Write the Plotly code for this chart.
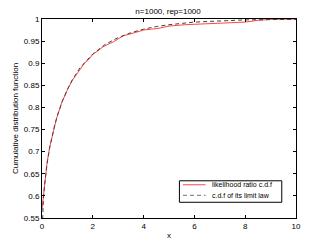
import plotly.graph_objects as go

# limit law c.d.f
x_limit = [0, 0.02, 0.05, 0.1, 0.15, 0.2, 0.3, 0.4, 0.5, 0.6, 0.8, 1.0, 1.2, 1.5, 1.8, 2.0,
           2.5, 3.0, 3.5, 4.0, 4.5, 5.0, 6.0, 7.0, 8.0, 9.0, 10.0]
y_limit = [0.50, 0.556, 0.588, 0.624, 0.651, 0.673, 0.708, 0.736, 0.760, 0.781, 0.814, 0.841,
           0.863, 0.890, 0.910, 0.921, 0.943, 0.958, 0.969, 0.977, 0.983, 0.987, 0.993, 0.996,
           0.998, 0.9987, 0.9992]

x_emp = [0.0, 0.02, 0.05, 0.1, 0.15, 0.2, 0.3, 0.4, 0.5, 0.6, 0.7, 0.8, 0.9, 1.0, 1.2, 1.4, 1.5,
         1.7, 1.8, 2.0, 2.2, 2.4, 2.6, 2.8, 3.0, 3.2, 3.4, 3.6, 3.8, 4.0, 4.3, 4.6, 5.0, 5.3,
         5.6, 6.0, 6.5, 7.0, 7.5, 8.0, 8.5, 9.0, 10.0]
y_emp = [0.57, 0.58, 0.60, 0.63, 0.655, 0.675, 0.71, 0.738, 0.758, 0.78, 0.80, 0.815, 0.826,
         0.84, 0.862, 0.878, 0.886, 0.902, 0.906, 0.92, 0.928, 0.937, 0.943, 0.948, 0.955,
         0.962, 0.965, 0.968, 0.972, 0.975, 0.977, 0.979, 0.984, 0.986, 0.987, 0.988, 0.989,
         0.99, 0.991, 0.993, 0.997, 0.999, 1.0]

series_names = ["likelihood ratio c.d.f", "c.d.f of its limit law"]

y_ticks = [0.55, 0.6, 0.65, 0.7, 0.75, 0.8, 0.85, 0.9, 0.95, 1.0]
y_ticktext = ["0.55", "0.6", "0.65", "0.7", "0.75", "0.8", "0.85", "0.9", "0.95", "1"]
x_ticks = [0, 2, 4, 6, 8, 10]

font = "Liberation Sans, Arial, sans-serif"
red = "#ff4545"
gray = "#404040"
legend_gray = "#707070"
dash = "4px,3px"

fig = go.Figure()
fig.add_trace(go.Scatter(x=x_emp, y=y_emp, mode="lines", line=dict(color=red, width=1),
                         name=series_names[0], showlegend=False))
fig.add_trace(go.Scatter(x=x_limit, y=y_limit, mode="lines", line=dict(color=gray, width=1, dash=dash),
                         name=series_names[1], showlegend=False))

axis_common = dict(showline=True, linecolor="black", linewidth=1, mirror="ticks", ticks="inside",
                   ticklen=3, tickcolor="black", showgrid=False, zeroline=False, automargin=False,
                   tickfont=dict(family=font, size=8, color="black"))

# manual compact legend (box, line samples, labels)
box = dict(x0=0.541, x1=0.944, y0=0.079, y1=0.187)
rows_y = [0.167, 0.114]
sample_x = (0.555, 0.644)
text_x = 0.663

shapes = [dict(type="rect", xref="paper", yref="paper", x0=box["x0"], x1=box["x1"],
               y0=box["y0"], y1=box["y1"], line=dict(color="black", width=1), fillcolor="white", layer="above")]
shapes.append(dict(type="line", xref="paper", yref="paper", x0=sample_x[0], x1=sample_x[1],
                   y0=rows_y[0], y1=rows_y[0], line=dict(color=red, width=1), layer="above"))
shapes.append(dict(type="line", xref="paper", yref="paper", x0=sample_x[0], x1=sample_x[1],
                   y0=rows_y[1], y1=rows_y[1], line=dict(color=legend_gray, width=1, dash=dash), layer="above"))
annotations = [dict(text=series_names[i], xref="paper", yref="paper", x=text_x, y=rows_y[i],
                    xanchor="left", yanchor="middle", showarrow=False,
                    font=dict(family=font, size=7, color="black")) for i in range(2)]

fig.update_layout(
    width=327, height=246,
    margin=dict(l=42, r=31, t=19, b=28),
    paper_bgcolor="white", plot_bgcolor="white",
    title=dict(text="n=1000, rep=1000", x=0.514, xanchor="center", y=0.9565, yanchor="middle",
               font=dict(family=font, size=8, color="black")),
    xaxis=dict(range=[0, 10], tickvals=x_ticks,
               title=dict(text="x", font=dict(family=font, size=8, color="black"), standoff=2),
               **axis_common),
    yaxis=dict(range=[0.55, 1.0], tickvals=y_ticks, ticktext=y_ticktext,
               title=dict(text="Cumulative distribution function", font=dict(family=font, size=8, color="black"), standoff=4),
               **axis_common),
    showlegend=False,
    shapes=shapes,
    annotations=annotations,
)

fig.write_html("out.html", post_script="document.body.style.margin='0px';",
               config={"displayModeBar": False})
